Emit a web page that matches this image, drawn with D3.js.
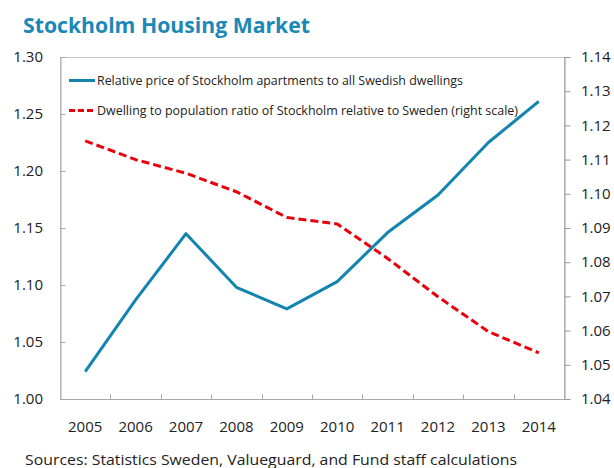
<!DOCTYPE html>
<html>
<head>
<meta charset="utf-8">
<script src="https://cdn.jsdelivr.net/npm/d3@7"></script>
<style>
  body { margin: 0; background: #fff; }
  svg { font-family: "Open Sans", "Noto Sans", sans-serif; }
</style>
</head>
<body>
<svg id="chart" width="614" height="468"></svg>
<script>
const width = 614;
const height = 468;
const margin = { top: 57, right: 50, bottom: 69, left: 60 };

// Data
const years = ["2005", "2006", "2007", "2008", "2009", "2010", "2011", "2012", "2013", "2014"];
const priceRatio = [1.024, 1.087, 1.145, 1.098, 1.079, 1.103, 1.146, 1.179, 1.225, 1.261];
const dwellingRatio = [1.1155, 1.110, 1.106, 1.1006, 1.0931, 1.0912, 1.0811, 1.0699, 1.0597, 1.0535];
const leftTicks = [1.0, 1.05, 1.1, 1.15, 1.2, 1.25, 1.3];
const rightTicks = [1.04, 1.05, 1.06, 1.07, 1.08, 1.09, 1.1, 1.11, 1.12, 1.13, 1.14];

const svg = d3.select("#chart");

const x = d3
  .scaleBand()
  .domain(years)
  .range([margin.left, width - margin.right]);

const yLeft = d3
  .scaleLinear()
  .domain([1.0, 1.3])
  .range([height - margin.bottom, margin.top]);

const yRight = d3
  .scaleLinear()
  .domain([1.04, 1.14])
  .range([height - margin.bottom, margin.top]);

const gridColor = "#a8a8a8";

// Title
svg
  .append("text")
  .attr("x", 23)
  .attr("y", 33)
  .attr("textLength", 287)
  .attr("lengthAdjust", "spacingAndGlyphs")
  .style("font-size", "21px")
  .style("font-weight", "bold")
  .style("fill", "#1b88b6")
  .text("Stockholm Housing Market");

// Frame
svg
  .append("rect")
  .attr("x", margin.left + 0.5)
  .attr("y", margin.top + 0.5)
  .attr("width", width - margin.left - margin.right)
  .attr("height", height - margin.top - margin.bottom)
  .attr("fill", "none")
  .attr("stroke", "#c8c8c8");

// Left axis (ticks inside)
const leftAxis = svg
  .append("g")
  .attr("transform", `translate(${margin.left + 0.5},0)`)
  .call(d3.axisRight(yLeft).tickValues(leftTicks).tickSize(5).tickFormat(""));
leftAxis.selectAll("path, line").attr("stroke", gridColor);

svg
  .append("g")
  .selectAll("text")
  .data(leftTicks)
  .join("text")
  .attr("x", 43)
  .attr("y", (d) => yLeft(d))
  .attr("dy", "0.35em")
  .attr("text-anchor", "end")
  .style("font-size", "15px")
  .style("fill", "#222")
  .text((d) => d3.format(".2f")(d));

// Right axis (ticks outside)
const rightAxis = svg
  .append("g")
  .attr("transform", `translate(${width - margin.right + 0.5},0)`)
  .call(d3.axisRight(yRight).tickValues(rightTicks).tickSize(6).tickFormat(""));
rightAxis.selectAll("path, line").attr("stroke", "#999");

svg
  .append("g")
  .selectAll("text")
  .data(rightTicks)
  .join("text")
  .attr("x", 581)
  .attr("y", (d) => yRight(d))
  .attr("dy", "0.35em")
  .style("font-size", "15px")
  .style("fill", "#222")
  .text((d) => d3.format(".2f")(d));

// Bottom axis: ticks between categories pointing up
const bottomY = height - margin.bottom + 0.5;
svg
  .append("line")
  .attr("x1", margin.left)
  .attr("x2", width - margin.right)
  .attr("y1", bottomY)
  .attr("y2", bottomY)
  .attr("stroke", gridColor);

svg
  .append("g")
  .selectAll("line")
  .data(years.slice(1))
  .join("line")
  .attr("x1", (d) => Math.round(x(d)) + 0.5)
  .attr("x2", (d) => Math.round(x(d)) + 0.5)
  .attr("y1", bottomY)
  .attr("y2", bottomY - 5)
  .attr("stroke", gridColor);

svg
  .append("g")
  .selectAll("text")
  .data(years)
  .join("text")
  .attr("x", (d) => x(d) + x.bandwidth() / 2)
  .attr("y", 432)
  .attr("text-anchor", "middle")
  .style("font-size", "15px")
  .style("fill", "#222")
  .text((d) => d);

// Lines
const priceLine = d3
  .line()
  .x((d, i) => x(years[i]) + x.bandwidth() / 2)
  .y((d) => yLeft(d));

const dwellingLine = d3
  .line()
  .x((d, i) => x(years[i]) + x.bandwidth() / 2)
  .y((d) => yRight(d));

svg
  .append("path")
  .datum(dwellingRatio)
  .attr("d", dwellingLine)
  .attr("fill", "none")
  .attr("stroke", "#e8000b")
  .attr("stroke-width", 3)
  .attr("stroke-dasharray", "8,4");

svg
  .append("path")
  .datum(priceRatio)
  .attr("d", priceLine)
  .attr("fill", "none")
  .attr("stroke", "#1184b0")
  .attr("stroke-width", 3)
  .attr("stroke-linejoin", "round");

// Legend
const legend = [
  { label: "Relative price of Stockholm apartments to all Swedish dwellings", color: "#1184b0", dash: null, y: 80.5, w: 366 },
  { label: "Dwelling to population ratio of Stockholm relative to Sweden (right scale)", color: "#e8000b", dash: "6,3", y: 110.5, w: 421 },
];

const lg = svg.append("g").selectAll("g").data(legend).join("g");
lg.append("line")
  .attr("x1", 69)
  .attr("x2", 95)
  .attr("y1", (d) => d.y)
  .attr("y2", (d) => d.y)
  .attr("stroke", (d) => d.color)
  .attr("stroke-width", 3)
  .attr("stroke-dasharray", (d) => d.dash);
lg.append("text")
  .attr("x", 97)
  .attr("y", (d) => d.y)
  .attr("dy", "0.35em")
  .attr("textLength", (d) => d.w)
  .attr("lengthAdjust", "spacingAndGlyphs")
  .style("font-size", "12.5px")
  .style("fill", "#222")
  .text((d) => d.label);

// Source note
svg
  .append("text")
  .attr("x", 25)
  .attr("y", 465)
  .attr("textLength", 492)
  .attr("lengthAdjust", "spacingAndGlyphs")
  .style("font-size", "15px")
  .style("fill", "#222")
  .text("Sources: Statistics Sweden, Valueguard, and Fund staff calculations");
</script>
</body>
</html>
